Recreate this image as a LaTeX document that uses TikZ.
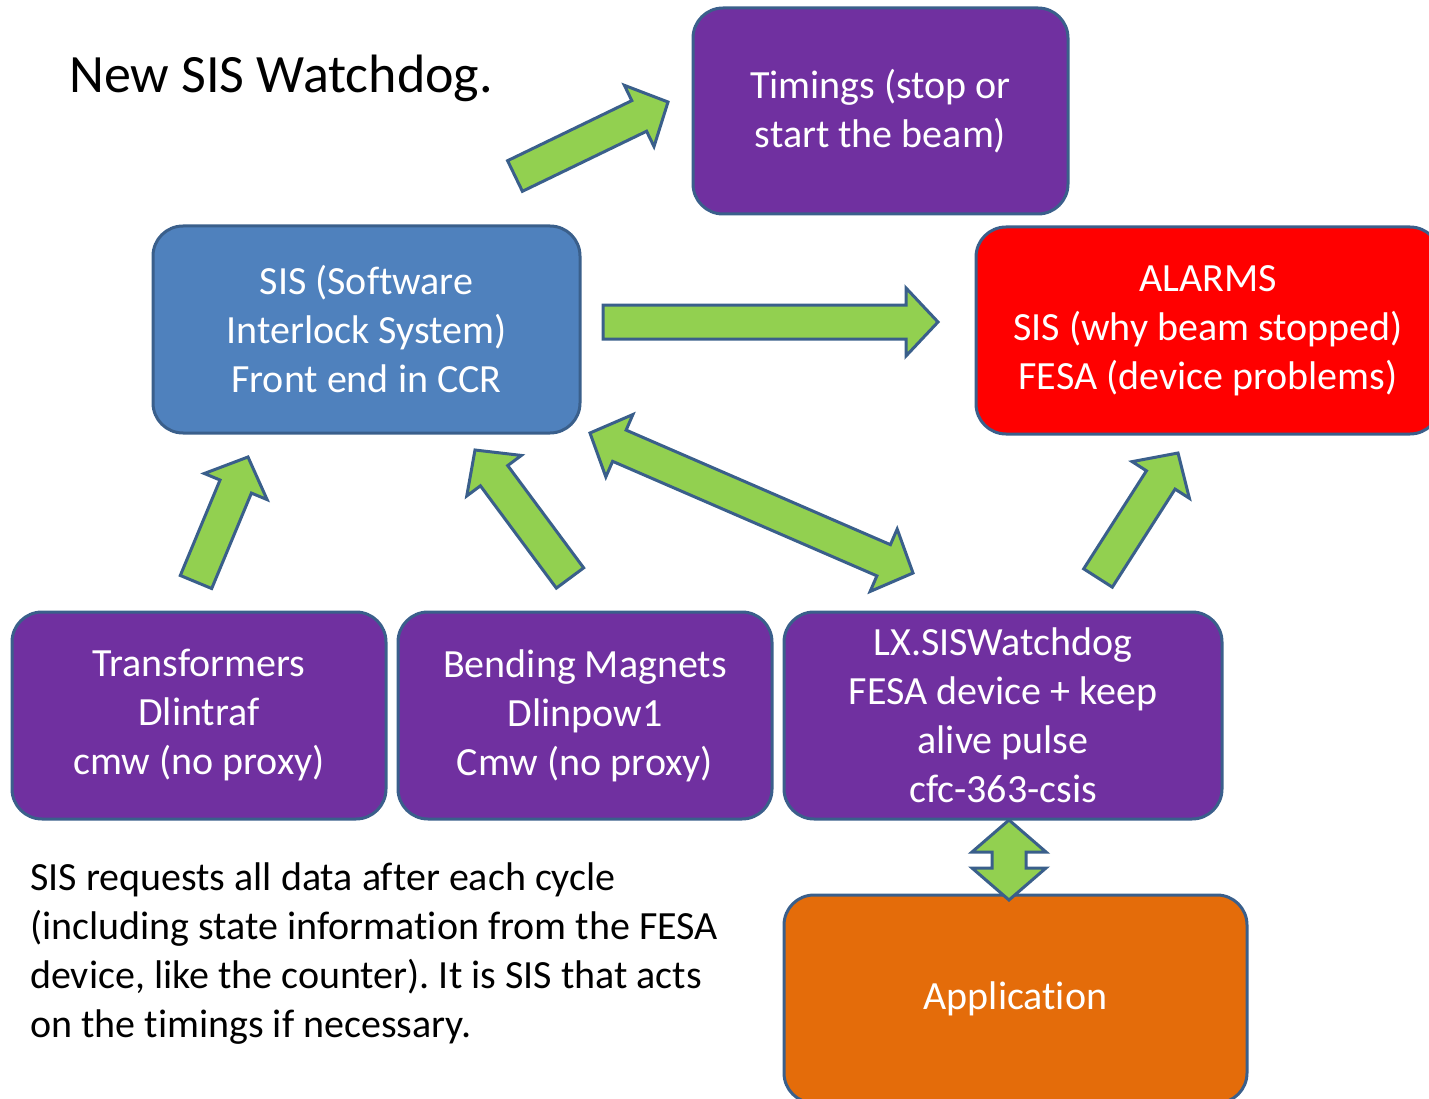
\documentclass[tikz,border=0pt]{standalone}
\usepackage{fontspec}
\setmainfont{Carlito}[Ligatures={NoCommon}]
\usetikzlibrary{calc}
\frenchspacing
\definecolor{purp}{HTML}{7030A0}
\definecolor{sisblue}{HTML}{4F81BD}
\definecolor{alarmred}{HTML}{FF0000}
\definecolor{apporange}{HTML}{E46C0A}
\definecolor{bordblue}{HTML}{3A5F8B}
\definecolor{arrgreen}{HTML}{92D050}
\tikzset{
  box/.style={draw=bordblue, line width=3pt, rounded corners=30pt, text=white,
    align=center, inner sep=0pt, font=\fontsize{40}{49}\selectfont},
  blockarrow/.style={draw=bordblue, line width=3pt, fill=arrgreen, line join=miter},
}
\newcommand\sarrow[2]{%
  \path ($(#2)!32pt!(#1)$) coordinate (hh);
  \draw[blockarrow] ($(#1)!17pt!90:(#2)$) -- ($(hh)!17pt!90:(#2)$) -- ($(hh)!34pt!90:(#2)$) -- (#2)
    -- ($(hh)!34pt!-90:(#2)$) -- ($(hh)!17pt!-90:(#2)$) -- ($(#1)!17pt!-90:(#2)$) -- cycle;}
\newcommand\darrow[3]{%
  \path ($(#1)!32pt!(#2)$) coordinate (ha) ($(#2)!32pt!(#1)$) coordinate (hb);
  \draw[blockarrow] (#1) -- ($(ha)!#3pt!90:(#2)$) -- ($(ha)!17pt!90:(#2)$) -- ($(hb)!17pt!90:(#2)$)
    -- ($(hb)!#3pt!90:(#2)$) -- (#2) -- ($(hb)!#3pt!-90:(#2)$) -- ($(hb)!17pt!-90:(#2)$)
    -- ($(ha)!17pt!-90:(#2)$) -- ($(ha)!#3pt!-90:(#2)$) -- cycle;}
\begin{document}
\begin{tikzpicture}[x=1pt, y=-1pt]
\useasboundingbox (0,0) rectangle (1429,1099);
\clip (0,0) rectangle (1429,1099);
% title
\node[anchor=base west, inner sep=0pt, font=\fontsize{54}{65}\selectfont] (title) at (69,93) {New SIS Watchdog.};
% boxes
\node[box, fill=purp, minimum width=375, minimum height=206] (tim) at (880.5,111) {\rule{0pt}{3pt}Timings (stop or\\start the beam)};
\node[box, fill=sisblue, minimum width=427, minimum height=207] (sis) at (366.5,329.5) {SIS (Software\\Interlock System)\\Front end in CCR};
\node[box, fill=alarmred, minimum width=464, minimum height=207] (alarm) at (1208,330.5) {ALARMS\\SIS (why beam stopped)\\FESA (device problems)};
\node[box, fill=purp, minimum width=374, minimum height=207] (trans) at (199,715.5) {Transformers\\Dlintraf\\cmw (no proxy)};
\node[box, fill=purp, minimum width=374, minimum height=207] (bend) at (585,715.5) {Bending Magnets\\Dlinpow1\\Cmw (no proxy)};
\node[box, fill=purp, minimum width=438, minimum height=207] (lx) at (1003,715.5) {LX.SISWatchdog\\FESA device + keep\\alive pulse\\cfc-363-csis};
\node[box, fill=apporange, minimum width=463, minimum height=208] (app) at (1015.5,999) {Application};
% explanatory text
\node[anchor=north west, inner sep=0pt, align=left, font=\fontsize{40}{49}\selectfont] (note) at (30,863)
  {SIS requests all data after each cycle\\(including state information from the FESA\\device, like the counter). It is SIS that acts\\on the timings if necessary.};
% arrow end points
\coordinate (a1s) at (515,176);  \coordinate (a1e) at (668,102);
\coordinate (a2s) at (603,322);  \coordinate (a2e) at (938,322);
\coordinate (a3s) at (590,433);  \coordinate (a3e) at (913,573);
\coordinate (a4s) at (196,582);  \coordinate (a4e) at (248,457);
\coordinate (a5s) at (570,578);  \coordinate (a5e) at (475,450);
\coordinate (a6s) at (1098,578); \coordinate (a6e) at (1178,453);
\coordinate (a7s) at (1009,820);
\coordinate (a7e) at (1009,900);
\sarrow{a1s}{a1e}
\sarrow{a2s}{a2e}
\darrow{a3s}{a3e}{34}
\sarrow{a4s}{a4e}
\sarrow{a5s}{a5e}
\sarrow{a6s}{a6e}
\darrow{a7s}{a7e}{37}
\end{tikzpicture}
\end{document}
